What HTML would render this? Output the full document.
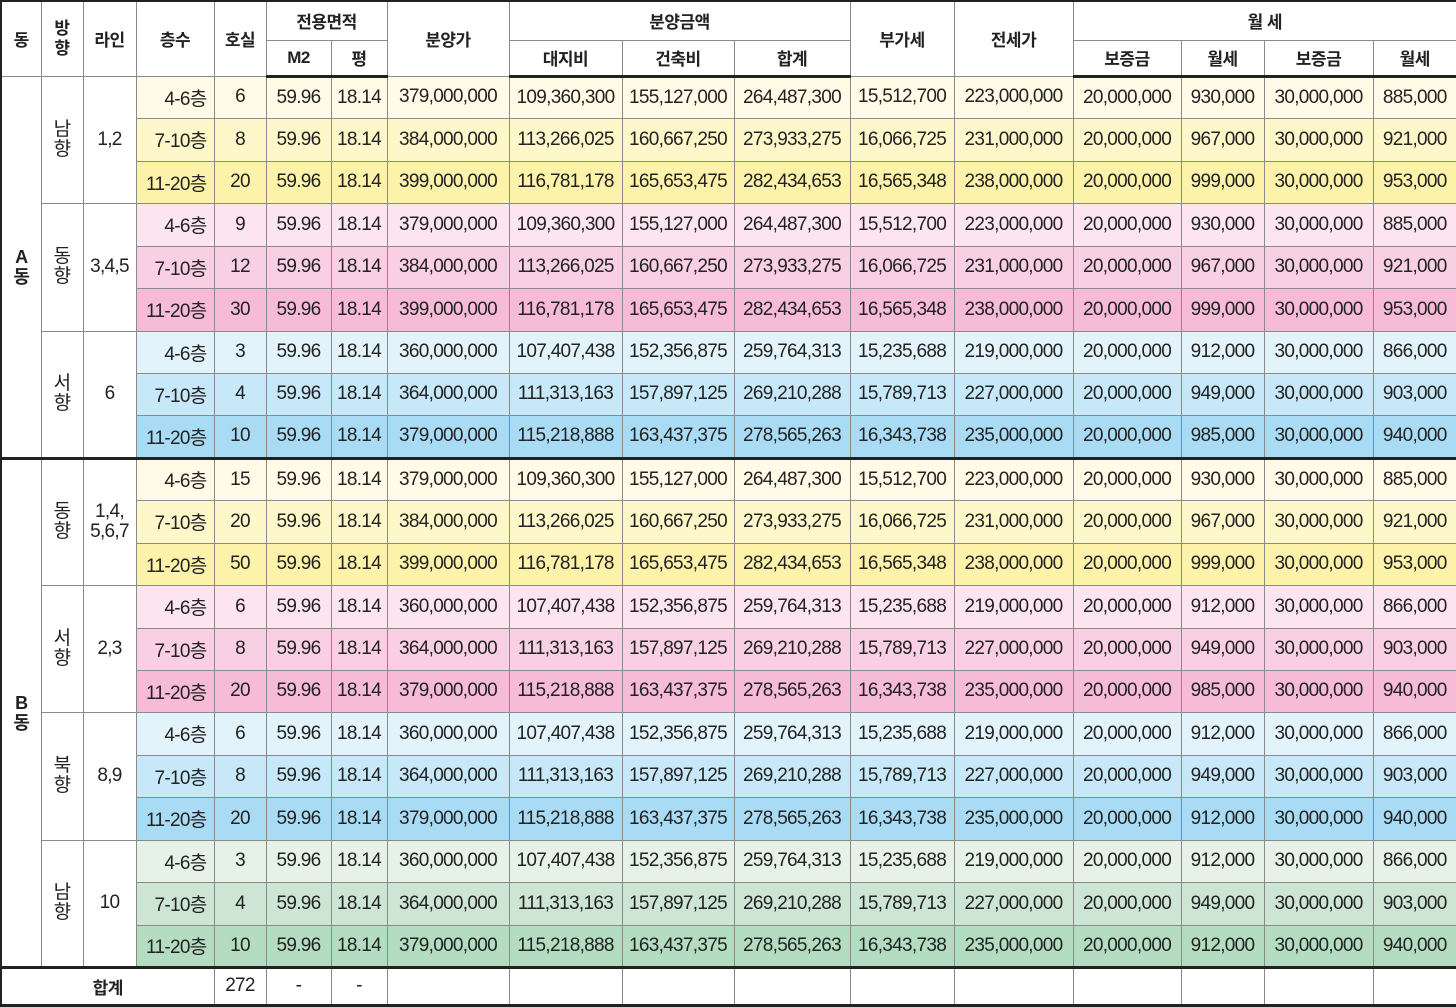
<!DOCTYPE html>
<html><head><meta charset="utf-8">
<style>
html,body{margin:0;padding:0;background:#fff;}
body{width:1456px;height:1007px;overflow:hidden;}
table{border-collapse:collapse;table-layout:fixed;width:1456px;font-family:"Liberation Sans","Noto Sans CJK KR",sans-serif;font-size:19px;color:#222;letter-spacing:-0.7px;}
td{border:1px solid #8a8a8a;text-align:center;padding:0;overflow:hidden;white-space:nowrap;}
td.h{font-weight:bold;font-size:17px;letter-spacing:-0.5px;background:#fff;}
td.fl{text-align:right;padding-right:7px;}
tr.hd2 td{border-bottom:3px solid #222;}
tr.sepB td{border-top:3px solid #222;}
tr.tot td{border-top:3px solid #222;border-bottom:3px solid #222;}
table{border:2px solid #222;}
td.vert{line-height:20px;}
td.dong{font-weight:bold;font-size:18px;line-height:20px;}
</style></head><body>
<table id="t">
<colgroup>
<col style="width:40px"><col style="width:42px"><col style="width:53px"><col style="width:78px"><col style="width:52px"><col style="width:65px"><col style="width:56px"><col style="width:122px"><col style="width:113px"><col style="width:112px"><col style="width:116px"><col style="width:104px"><col style="width:119px"><col style="width:108px"><col style="width:83px"><col style="width:109px"><col style="width:84px">
</colgroup>
<tr style="height:39px">
<td class="h" rowspan="2">동</td>
<td class="h vert" rowspan="2">방<br>향</td>
<td class="h" rowspan="2">라인</td>
<td class="h" rowspan="2">층수</td>
<td class="h" rowspan="2">호실</td>
<td class="h" colspan="2">전용면적</td>
<td class="h" rowspan="2">분양가</td>
<td class="h" colspan="3">분양금액</td>
<td class="h" rowspan="2">부가세</td>
<td class="h" rowspan="2">전세가</td>
<td class="h" colspan="4">월 세</td>
</tr>
<tr class="hd2" style="height:36px">
<td class="h">M2</td>
<td class="h">평</td>
<td class="h">대지비</td>
<td class="h">건축비</td>
<td class="h">합계</td>
<td class="h">보증금</td>
<td class="h">월세</td>
<td class="h">보증금</td>
<td class="h">월세</td>
</tr>
</table>
<script>
const floors=["4-6층","7-10층","11-20층"];
const pricesA=[["379,000,000","109,360,300","155,127,000","264,487,300","15,512,700","223,000,000","20,000,000","930,000","30,000,000","885,000"],["384,000,000","113,266,025","160,667,250","273,933,275","16,066,725","231,000,000","20,000,000","967,000","30,000,000","921,000"],["399,000,000","116,781,178","165,653,475","282,434,653","16,565,348","238,000,000","20,000,000","999,000","30,000,000","953,000"]];
const pricesB=[["360,000,000","107,407,438","152,356,875","259,764,313","15,235,688","219,000,000","20,000,000","912,000","30,000,000","866,000"],["364,000,000","111,313,163","157,897,125","269,210,288","15,789,713","227,000,000","20,000,000","949,000","30,000,000","903,000"],["379,000,000","115,218,888","163,437,375","278,565,263","16,343,738","235,000,000","20,000,000","985,000","30,000,000","940,000"]];
const palettes={yellow:["#fffbe7","#fef7c9","#fdf2a9"],pink:["#fde5ef","#f9cfe3","#f5bbd7"],blue:["#e3f3fb","#c6e8f8","#a9dcf4"],green:["#e6f2e7","#cde6d4","#b3dcc1"]};
const sections=[
{dong:"A",dir:"남향",line:"1,2",units:[6,8,20],color:"yellow",p:pricesA,rentFix:null},
{dong:"A",dir:"동향",line:"3,4,5",units:[9,12,30],color:"pink",p:pricesA,rentFix:null},
{dong:"A",dir:"서향",line:"6",units:[3,4,10],color:"blue",p:pricesB,rentFix:null},
{dong:"B",dir:"동향",line:"1,4,<br>5,6,7",units:[15,20,50],color:"yellow",p:pricesA,rentFix:null},
{dong:"B",dir:"서향",line:"2,3",units:[6,8,20],color:"pink",p:pricesB,rentFix:null},
{dong:"B",dir:"북향",line:"8,9",units:[6,8,20],color:"blue",p:pricesB,rentFix:"912,000"},
{dong:"B",dir:"남향",line:"10",units:[3,4,10],color:"green",p:pricesB,rentFix:"912,000"}
];
const t=document.getElementById('t');
let rowIdx=0;
const RH=891/21;
sections.forEach((s,si)=>{
  for(let r=0;r<3;r++){
    const tr=document.createElement('tr');
    
    
    tr.style.height=(Math.round((rowIdx+1)*RH)-Math.round(rowIdx*RH))+'px';
    if(si==3&&r==0) tr.className='sepB';
    const bg=palettes[s.color][r];
    if(r==0){
      if(si==0||si==3){
        const d=document.createElement('td');
        
        
        d.className='dong';d.rowSpan=(si==0?9:12);d.innerHTML=s.dong+"<br>동";
        tr.appendChild(d);
      }
      const dr=document.createElement('td');
      
      
      dr.className='vert';dr.rowSpan=3;dr.innerHTML=s.dir[0]+"<br>"+s.dir[1];
      tr.appendChild(dr);
      const ln=document.createElement('td');
      
      
      ln.className='vert';ln.rowSpan=3;ln.innerHTML=s.line;
      tr.appendChild(ln);
    }
    const vals=[floors[r],String(s.units[r]),"59.96","18.14"].concat(s.p[r].slice());
    if(r==2&&s.rentFix) vals[11]=s.rentFix;
    vals.forEach((v,ci)=>{
      const c=document.createElement('td');
      
      
      c.textContent=v;c.style.background=bg;
      if(ci==0)c.className='fl';
      tr.appendChild(c);
    });
    t.appendChild(tr);rowIdx++;
  }
});
const tot=document.createElement('tr');


tot.className='tot';tot.style.height='38px';
const totCells=[["합계",4],["272",1],["-",1],["-",1],["",1],["",1],["",1],["",1],["",1],["",1],["",1],["",1],["",1],["",1]];
totCells.forEach((c,i)=>{
  const td=document.createElement('td');
  
  
  td.textContent=c[0];td.colSpan=c[1];
  if(i==0)td.className='h';
  tot.appendChild(td);
});
t.appendChild(tot);
</script>
</body></html>
